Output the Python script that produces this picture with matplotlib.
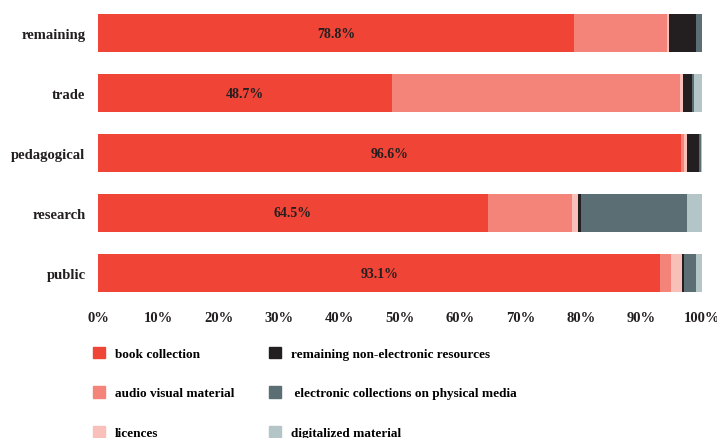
import numpy as np
import matplotlib.pyplot as plt
from matplotlib.patches import Patch

plt.rcParams['font.family'] = ['Liberation Serif', 'DejaVu Serif']
plt.rcParams['font.weight'] = 'bold'

libraries = ['remaining', 'trade', 'pedagogical', 'research', 'public']
book = [78.8, 48.7, 96.6, 64.5, 93.1]
audio_visual = [15.4, 47.7, 0.5, 13.9, 1.7]
licences = [0.3, 0.5, 0.4, 1.0, 1.9]
non_electronic = [4.5, 1.5, 2.0, 0.5, 0.3]
electronic = [1.0, 0.2, 0.3, 17.6, 2.0]
digitalized = [0.0, 1.4, 0.2, 2.5, 1.0]

series = [
    ('book collection', book, '#ef4436'),
    ('audio visual material', audio_visual, '#f4837a'),
    ('licences', licences, '#f8c0b8'),
    ('remaining non-electronic resources', non_electronic, '#231f20'),
    (' electronic collections on physical media', electronic, '#5a6e73'),
    ('digitalized material', digitalized, '#b4c5c8'),
]

fig = plt.figure(figsize=(7.17, 4.39), dpi=100)
ax = fig.add_axes([98/717, 1 - 304/439, 604/717, 300/439])

y = np.arange(len(libraries))
left = np.zeros(len(libraries))
handles = []
for name, vals, col in series:
    vals = np.array(vals)
    ax.barh(y, vals, left=left, height=0.63, color=col, linewidth=0)
    left += vals
    handles.append(Patch(color=col, label=name))

for i, v in enumerate(book):
    ax.text(v / 2, y[i], '{}%'.format(v), ha='center', va='center',
            fontsize=10, fontweight='bold', color='#231f20')

ax.set_xlim(0, 100)
ax.set_ylim(len(libraries) - 0.5, -0.5)
ax.set_yticks(y)
ax.set_yticklabels(libraries, fontsize=10.5, fontweight='bold', color='#231f20')
ax.set_xticks(np.arange(0, 101, 10))
ax.set_xticklabels(['{}%'.format(t) for t in range(0, 101, 10)],
                   fontsize=10.5, fontweight='bold', color='#231f20')
ax.tick_params(length=0, pad=6)
ax.tick_params(axis='y', pad=9)
for s in ax.spines.values():
    s.set_visible(False)

fig.legend(handles=handles, ncol=2, loc='upper left',
           bbox_to_anchor=(86/717, 1 - 341/439), frameon=False,
           fontsize=9.5, handlelength=0.95, handleheight=0.95, borderpad=0,
           handletextpad=0.75, labelspacing=2.0, columnspacing=2.6)

fig.savefig('out.png', dpi=100)
